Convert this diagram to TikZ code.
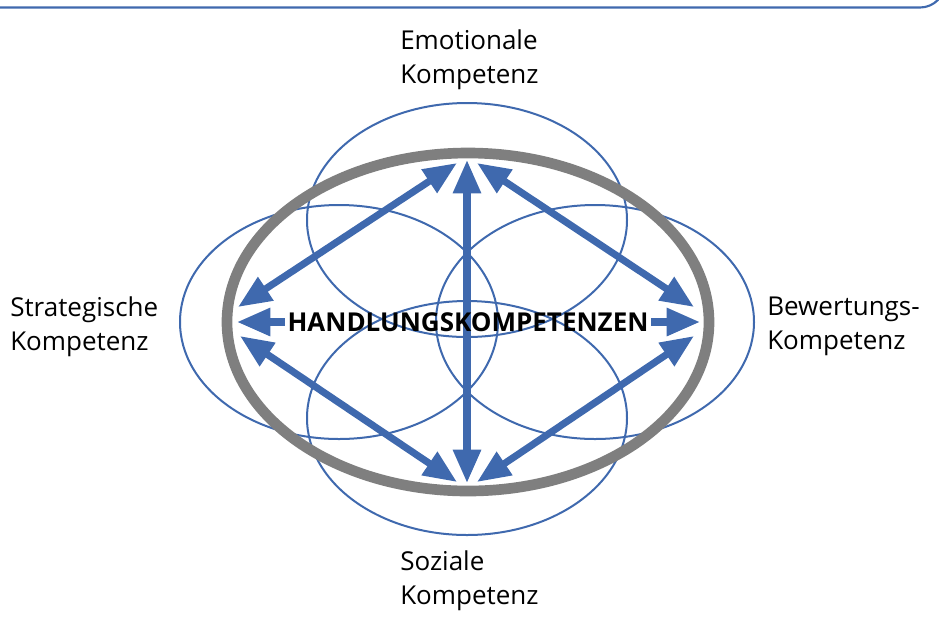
\documentclass[tikz,border=0pt]{standalone}
\usepackage{fontspec}
\setmainfont{Open Sans}
\usetikzlibrary{arrows.meta}
\definecolor{kblue}{HTML}{3F69AE}
\definecolor{kgray}{HTML}{7F7F7F}
\tikzset{
  ring/.style={draw=kblue, line width=1.5pt},
  bigring/.style={draw=kgray, line width=8pt},
  lbl/.style={align=left, inner sep=0pt, anchor=west,
              font=\fontsize{19.5pt}{25.5pt}\selectfont},
  hub/.style={inner sep=2pt, font=\fontsize{19.5pt}{23pt}\selectfont\bfseries},
  link/.style={{Triangle[length=25pt,width=20pt]}-{Triangle[length=25pt,width=20pt]},
               draw=kblue, fill=kblue, line width=5.3pt},
  halflink/.style={-{Triangle[length=25pt,width=20pt]},
               draw=kblue, fill=kblue, line width=5.3pt}
}
\begin{document}
\begin{tikzpicture}[x=0.75pt,y=-0.75pt]
\useasboundingbox (0,0) rectangle (939,619);
% frame
\draw[kblue, line width=1.6pt] (-10,7.5) -- (920,7.5) arc[start angle=90, end angle=0, radius=25] -- (945,640);
% the four competence fields
\draw[ring] (467,220) ellipse [x radius=160, y radius=117];
\draw[ring] (467,418) ellipse [x radius=160, y radius=117];
\draw[ring] (339,322) ellipse [x radius=159, y radius=117];
\draw[ring] (595,322) ellipse [x radius=159, y radius=117];
\draw[bigring] (468,322) ellipse [x radius=241, y radius=169];
% labels
\node[lbl] (emo) at (400,60) {Emotionale\\Kompetenz};
\node[lbl] (str) at (10,327) {Strategische\\Kompetenz};
\node[lbl] (bew) at (767,326) {Bewertungs-\\Kompetenz};
\node[lbl] (soz) at (400,581) {Soziale\\Kompetenz};
% arrow ends on the inner ring
\coordinate (n) at (467,160);
\coordinate (nw) at (457,163);
\coordinate (ne) at (477,163);
\coordinate (s) at (467,483);
\coordinate (sw) at (457,482);
\coordinate (se) at (477,482);
\coordinate (w) at (237,322);
\coordinate (wn) at (238,307);
\coordinate (ws) at (240,336);
\coordinate (e) at (700,322);
\coordinate (en) at (694,307);
\coordinate (es) at (694,336);
\draw[link] (n) -- (s);
\draw[link] (wn) -- (nw);
\draw[link] (en) -- (ne);
\draw[link] (ws) -- (sw);
\draw[link] (es) -- (se);
\node[hub] (hk) at (468,322) {HANDLUNGSKOMPETENZEN};
\draw[halflink] (hk.west) -- (w);
\draw[halflink] (hk.east) -- (e);
\end{tikzpicture}
\end{document}
